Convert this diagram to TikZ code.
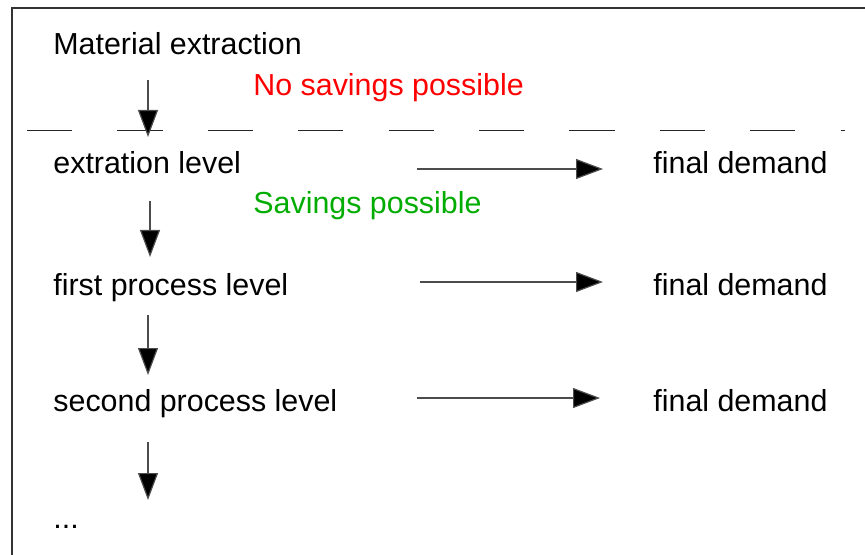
\documentclass[tikz,border=0pt]{standalone}
\usepackage{fontspec}
\setmainfont{Liberation Sans}
\usepackage{tikz}
\usetikzlibrary{arrows.meta,positioning}
\definecolor{nosave}{RGB}{255,0,0}
\definecolor{cansave}{RGB}{0,172,0}
\tikzset{
  leveltxt/.style={anchor=base west, inner sep=0pt,
    font=\fontsize{15.2}{18}\selectfont},
  flow/.style={line width=0.6pt, black!70,
    -{Triangle[length=13.5pt, width=10pt, fill=black]}},
  boundary/.style={line width=0.75pt, black!80},
  splitline/.style={line width=0.5pt, black!85,
    dash pattern=on 22.6pt off 22.6pt},
}

\begin{document}
\begin{tikzpicture}[x=0.5pt, y=-0.5pt]

\useasboundingbox (0,0) rectangle (865,555);

%% ── Frame ────────────────────────────────────────────────────────────────
\draw[boundary] (12,555) -- (12,8) -- (865,8);

%% ── Levels ───────────────────────────────────────────────────────────────
\node[leveltxt] (mat)  at (53,55)  {Material extraction};
\node[leveltxt] (ext)  at (53,174) {extration level};
\node[leveltxt] (proc1) at (53,295) {first process level};
\node[leveltxt] (proc2) at (53,411) {second process level};
\node[leveltxt] (more) at (53,528) {...};

%% ── Savings remarks ──────────────────────────────────────────────────────
\node[leveltxt, text=nosave]  (nosav) at (253,96)  {No savings possible};
\node[leveltxt, text=cansave] (cansav) at (253,214) {Savings possible};

\draw[splitline] (27,131) -- (845,131);

%% ── Final demand ─────────────────────────────────────────────────────────
\node[leveltxt] (fd_ext)   at (653,174) {final demand};
\node[leveltxt] (fd_proc1) at (653,295) {final demand};
\node[leveltxt] (fd_proc2) at (653,411) {final demand};

%% ── Downward flows ───────────────────────────────────────────────────────
\coordinate (d0s) at (148,80);  \coordinate (d0e) at (148,137);
\coordinate (d1s) at (150,201); \coordinate (d1e) at (150,257);
\coordinate (d2s) at (148,315); \coordinate (d2e) at (148,375);
\coordinate (d3s) at (148,442); \coordinate (d3e) at (148,500);
\draw[flow] (d0s) -- (d0e);
\draw[flow] (d1s) -- (d1e);
\draw[flow] (d2s) -- (d2e);
\draw[flow] (d3s) -- (d3e);

%% ── Flows to final demand ────────────────────────────────────────────────
\coordinate (h0s) at (417,169); \coordinate (h0e) at (603,169);
\coordinate (h1s) at (420,282); \coordinate (h1e) at (603,282);
\coordinate (h2s) at (417,398); \coordinate (h2e) at (600,398);
\draw[flow] (h0s) -- (h0e);
\draw[flow] (h1s) -- (h1e);
\draw[flow] (h2s) -- (h2e);

\end{tikzpicture}
\end{document}
